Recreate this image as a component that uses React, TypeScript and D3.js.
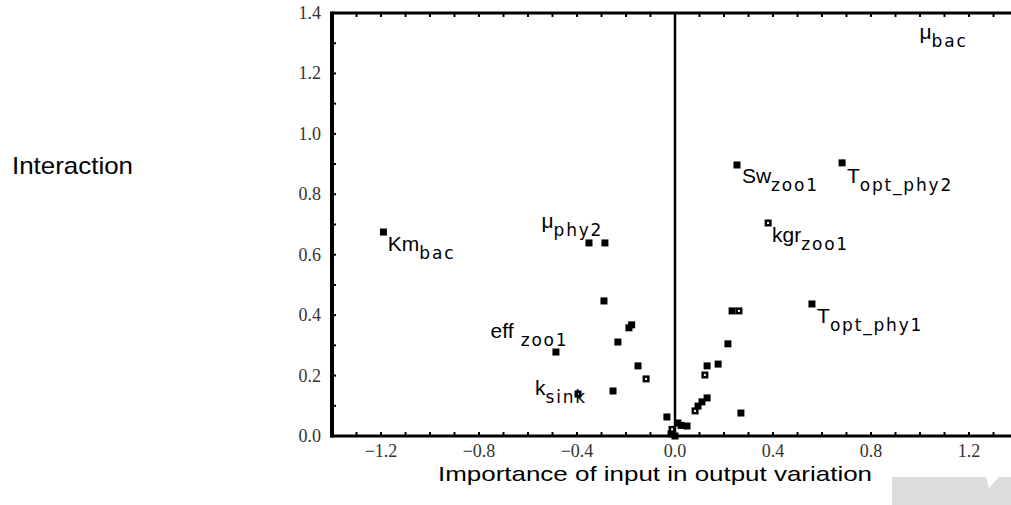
import React from 'react';
import * as d3 from 'd3';

// ---- data ----
const pointX = [
  -1.19, -0.351, -0.286, -0.29, -0.486, -0.188, -0.177, -0.233, -0.151, -0.118, -0.253, -0.396,
  -0.033, -0.016, -0.012, 0.0, 0.012, 0.049, 0.025,
  0.233, 0.261, 0.216, 0.176, 0.131, 0.122, 0.131, 0.11, 0.094, 0.082, 0.269,
  0.253, 0.682, 0.38, 0.559,
];
const pointY = [
  0.675, 0.639, 0.639, 0.447, 0.278, 0.358, 0.368, 0.311, 0.232, 0.189, 0.149, 0.139,
  0.063, 0.007, 0.022, 0.0, 0.043, 0.033, 0.035,
  0.414, 0.414, 0.305, 0.238, 0.232, 0.202, 0.126, 0.113, 0.099, 0.083, 0.076,
  0.897, 0.904, 0.705, 0.437,
];
const pointHollow = [
  false, false, false, false, false, false, false, false, false, true, false, true,
  false, false, true, false, false, false, false,
  false, true, false, false, false, true, false, false, false, true, false,
  false, false, true, false,
];

const labelMain = ['Km', 'μ', 'eff', 'k', 'Sw', 'T', 'kgr', 'T', 'μ'];
const labelSub = ['bac', 'phy2', ' zoo1', 'sink', 'zoo1', 'opt_phy2', 'zoo1', 'opt_phy1', 'bac'];
const labelX = [-1.172, -0.545, -0.753, -0.571, 0.273, 0.702, 0.396, 0.580, 0.998];
const labelY = [0.612, 0.689, 0.324, 0.136, 0.837, 0.837, 0.642, 0.374, 1.315];

const xTickLabels = [-1.2, -0.8, -0.4, 0.0, 0.4, 0.8, 1.2];
const yTickLabels = [0.0, 0.2, 0.4, 0.6, 0.8, 1.0, 1.2, 1.4];

const xTitle = 'Importance of input in output variation';
const yTitle = 'Interaction';

export default function App() {
  const W = 1011;
  const H = 505;
  const x = d3.scaleLinear().domain([-1.4, 1.4]).range([332, 1018]);
  const y = d3.scaleLinear().domain([0, 1.4]).range([436, 13]);
  const xMinor = d3.range(-14, 15).map((d) => d / 10);
  const yMinor = d3.range(0, 15).map((d) => d / 10);
  const fmt = (v: number) => {
    const s = Math.abs(v).toFixed(1);
    return v < -1e-9 ? '\u2212' + s : s;
  };
  const ms = 7;
  const top = y(1.4);
  const bottom = y(0);
  const left = x(-1.4);

  return (
    <svg
      width={W}
      height={H}
      viewBox={`0 0 ${W} ${H}`}
      style={{ position: 'absolute', left: 0, top: 0, background: '#fff' }}
    >
      <rect x={0} y={0} width={W} height={H} fill="#fff" />

      {/* grey box bottom right */}
      <polygon
        points="892,477 986,477 989,488 999,477 1011,477 1011,505 892,505"
        fill="#dcdcdc"
      />

      {/* minor ticks bottom & top */}
      {xMinor.map((v, i) => (
        <g key={'xt' + i}>
          <line x1={x(v)} x2={x(v)} y1={bottom} y2={bottom - 4} stroke="#000" strokeWidth={2} />
          <line x1={x(v)} x2={x(v)} y1={top} y2={top + 4} stroke="#000" strokeWidth={2} />
        </g>
      ))}
      {yMinor.map((v, i) => (
        <line key={'yt' + i} x1={left} x2={left + 4} y1={y(v)} y2={y(v)} stroke="#000" strokeWidth={2} />
      ))}

      {/* axes */}
      <line x1={left} x2={W} y1={top} y2={top} stroke="#000" strokeWidth={3} />
      <line x1={left - 1} x2={W} y1={bottom} y2={bottom} stroke="#000" strokeWidth={3} />
      <line x1={left} x2={left} y1={top - 1.5} y2={bottom + 1.5} stroke="#000" strokeWidth={4} />
      <line x1={x(0)} x2={x(0)} y1={top} y2={bottom} stroke="#000" strokeWidth={2.5} />

      {/* tick labels */}
      {xTickLabels.map((v, i) => (
        <text
          key={'xl' + i}
          x={x(v)}
          y={457}
          textAnchor="middle"
          fontFamily="'Liberation Serif', 'DejaVu Serif', serif"
          fontSize={18}
          fill="#333"
        >
          {fmt(v)}
        </text>
      ))}
      {yTickLabels.map((v, i) => (
        <text
          key={'yl' + i}
          x={321}
          y={y(v) + 6}
          textAnchor="end"
          fontFamily="'Liberation Serif', 'DejaVu Serif', serif"
          fontSize={18}
          fill="#333"
        >
          {fmt(v)}
        </text>
      ))}

      {/* points */}
      {pointX.map((v, i) => (
        <g key={'p' + i}>
          <rect
            x={x(v) - ms / 2}
            y={y(pointY[i]) - ms / 2}
            width={ms}
            height={ms}
            fill="#000"
          />
          {pointHollow[i] && (
            <rect x={x(v) - 1} y={y(pointY[i]) - 1} width={2} height={2} fill="#fff" />
          )}
        </g>
      ))}

      {/* labels */}
      {labelMain.map((m, i) => (
        <text
          key={'lb' + i}
          x={x(labelX[i])}
          y={y(labelY[i])}
          fontFamily="'Liberation Sans', Arial, sans-serif"
          fontSize={21}
          fill="#000"
          style={{ whiteSpace: 'pre' }}
        >
          <tspan>{m}</tspan>
          <tspan
            dy={8}
            fontFamily="'DejaVu Sans', sans-serif"
            fontSize={17}
            letterSpacing={1.8}
          >
            {labelSub[i]}
          </tspan>
        </text>
      ))}

      {/* axis titles */}
      <text
        x={12}
        y={174}
        fontFamily="'Liberation Sans', Arial, sans-serif"
        fontSize={24}
        fill="#000"
        textLength={121}
        lengthAdjust="spacingAndGlyphs"
      >
        {yTitle}
      </text>
      <text
        x={438}
        y={481}
        fontFamily="'Liberation Sans', Arial, sans-serif"
        fontSize={21}
        fill="#000"
        textLength={434}
        lengthAdjust="spacingAndGlyphs"
      >
        {xTitle}
      </text>
    </svg>
  );
}
